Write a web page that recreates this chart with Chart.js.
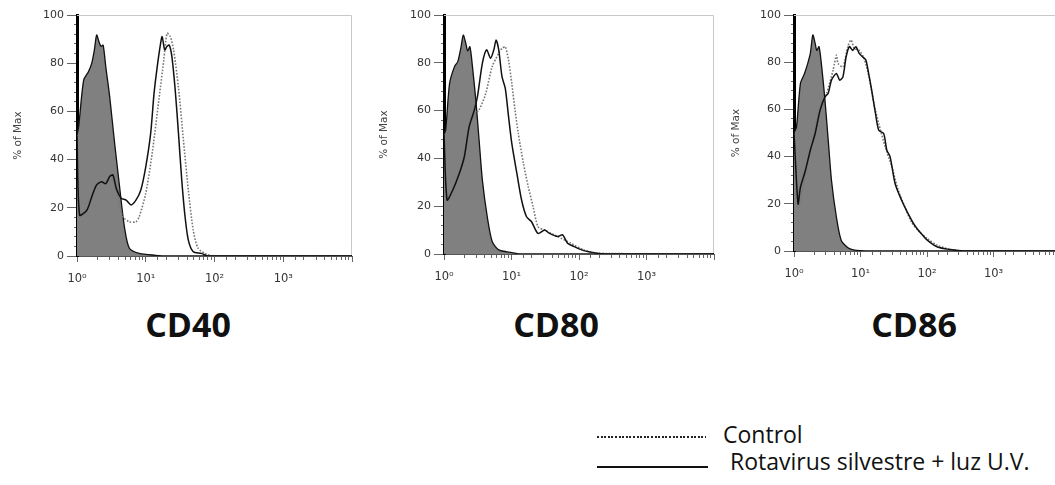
<!DOCTYPE html>
<html>
<head>
<meta charset="utf-8">
<script src="https://cdn.jsdelivr.net/npm/chart.js@4.4.1/dist/chart.umd.min.js"></script>
<style>
    body { margin: 0; width: 1055px; height: 485px; overflow: hidden; background: #fff; position: relative; }
    .panel { position: absolute; top: 0; }
    .title { position: absolute; top: 307px; width: 200px; text-align: center; font: 700 34px/34px "Open Sans", sans-serif; color: #111; }
    .legtext { position: absolute; font: 400 23px/23px "Open Sans", sans-serif; color: #111; white-space: nowrap; }
    .legline { position: absolute; height: 2px; }
</style>
</head>
<body>
<canvas id="cd40" class="panel" width="362" height="285" style="left:0px"></canvas>
<canvas id="cd80" class="panel" width="358" height="285" style="left:366px"></canvas>
<canvas id="cd86" class="panel" width="352" height="285" style="left:718px"></canvas>

<div class="title" style="left:88px">CD40</div>
<div class="title" style="left:456px">CD80</div>
<div class="title" style="left:814px">CD86</div>

<div class="legline" style="left:597px; top:436px; width:109px; background:repeating-linear-gradient(to right, #222 0 2px, transparent 2px 3.6px)"></div>
<div class="legtext" style="left:723px; top:423px">Control</div>
<div class="legline" style="left:597px; top:466px; width:111px; background:#111"></div>
<div class="legtext" style="left:730px; top:450px">Rotavirus silvestre + luz U.V.</div>

<script>
// Tick labels
const xTickLabels = ['10⁰', '10¹', '10²', '10³'];
const yAxisTitle = '% of Max';

// CD40
const cd40IsoX = [1.0, 1.06, 1.25, 1.47, 1.64, 1.79, 1.93, 2.08, 2.23, 2.40, 2.62, 2.99, 3.53, 4.16, 4.90, 5.78, 8.03, 13.9, 20, 10000];
const cd40IsoY = [50, 54, 73, 76.5, 80, 85.5, 91.7, 89, 87, 87.5, 78.6, 66, 46.7, 28.8, 12, 3.2, 1.1, 0.3, 0, 0];
const cd40UvX = [1.0, 1.09, 1.39, 1.64, 1.93, 2.28, 2.62, 2.99, 3.34, 3.73, 4.39, 5.18, 6.11, 7.20, 8.48, 10, 11.8, 13.2, 14.7, 16.4, 17.3, 18.9, 20.4, 22.0, 24.0, 26.8, 29.9, 33.4, 37.3, 41.6, 49.0, 64.5, 80.3, 10000];
const cd40UvY = [50, 17, 19, 24.6, 29.5, 30.8, 30, 33, 33.6, 28, 24, 23.2, 21.2, 23.2, 27.4, 37, 51, 67.5, 78.6, 88, 91, 85.5, 87, 87.5, 82.7, 69, 51, 31.5, 16.3, 6.6, 1.8, 1.1, 0, 0];
const cd40CtrlX = [1.0, 1.09, 1.39, 1.64, 1.93, 2.28, 2.62, 2.99, 3.34, 3.73, 4.64, 5.78, 7.20, 8.03, 10, 12.4, 15.5, 18.3, 20.4, 22.8, 25.4, 29.9, 35.3, 41.6, 49.0, 57.8, 76.0, 100, 10000];
const cd40CtrlY = [50, 17, 19, 24.6, 29.5, 30.8, 30, 32, 31, 26.7, 16.3, 14.2, 14.2, 16.3, 26, 42.6, 64.7, 81.3, 92.4, 91, 85.5, 70, 48, 27.4, 10.8, 3.2, 0.8, 0, 0];

// CD80
const cd80IsoX = [1.0, 1.06, 1.21, 1.43, 1.60, 1.79, 1.93, 2.11, 2.24, 2.42, 2.64, 2.96, 3.31, 3.70, 4.37, 5.17, 6.47, 10.1, 14.1, 10000];
const cd80IsoY = [50, 52, 71.4, 78.4, 80.5, 86.7, 91.6, 88, 85, 86.7, 78.4, 64.4, 47.7, 31, 15.6, 5.2, 1.7, 0.6, 0, 0];
const cd80UvX = [1.0, 1.11, 1.35, 1.69, 2.00, 2.36, 2.80, 3.13, 3.70, 4.28, 4.89, 5.47, 5.91, 6.47, 7.23, 8.09, 9.04, 10.1, 12.0, 14.1, 16.7, 19.8, 24.7, 30.9, 36.6, 48.3, 57.2, 67.6, 84.6, 118, 185, 231, 10000];
const cd80UvY = [50, 22.6, 26.8, 33.8, 40.7, 53.3, 60, 65.8, 79.8, 85.4, 81.9, 85.4, 89.5, 85.4, 74.2, 69.3, 57.5, 46.3, 33.8, 22.6, 15.6, 13.5, 8.6, 10, 8.6, 7.3, 8, 4.5, 3.1, 1.4, 0.3, 0, 0];
const cd80CtrlX = [1.0, 1.11, 1.35, 1.69, 2.00, 2.36, 2.96, 3.31, 4.14, 5.17, 6.47, 7.23, 8.09, 9.04, 10.1, 11.3, 12.6, 15.0, 17.7, 20.9, 24.7, 30.9, 48.3, 75.6, 118, 185, 10000];
const cd80CtrlY = [50, 22.6, 26.8, 33.8, 40.7, 53.3, 59, 60.3, 67, 78.4, 84, 86, 86.7, 81, 71.4, 60, 50.5, 38, 28.2, 19.8, 11.4, 10, 7.3, 4.5, 1.7, 0.3, 0];

// CD86
const cd86IsoX = [1.0, 1.09, 1.25, 1.43, 1.61, 1.76, 1.92, 2.08, 2.20, 2.38, 2.61, 2.92, 3.27, 3.66, 4.34, 5.14, 6.81, 12.0, 10000];
const cd86IsoY = [50, 52.6, 71, 75, 79.5, 83.7, 91.5, 88, 85, 86.6, 78, 64, 47, 30, 14.4, 4.5, 1, 0, 0];
const cd86UvX = [1.0, 1.15, 1.25, 1.48, 1.76, 2.08, 2.47, 2.92, 3.27, 3.66, 4.34, 4.86, 5.44, 6.08, 6.81, 7.63, 8.54, 9.55, 10.7, 12.0, 13.4, 15.0, 16.8, 18.8, 22.3, 24.9, 27.9, 33.1, 41.5, 52.0, 65.1, 81.6, 102, 144, 225, 354, 10000];
const cd86UvY = [50, 20, 27, 34, 42.7, 49.8, 59.7, 65.3, 66.8, 72.4, 75.2, 72.4, 73.8, 82.3, 86.6, 85, 86.6, 83.7, 82.3, 81, 74.5, 66.8, 58.3, 51.2, 49.8, 42.7, 39.9, 28.6, 21.5, 15.8, 10.9, 7.4, 4.5, 1.7, 0.6, 0, 0];
const cd86CtrlX = [1.0, 1.15, 1.57, 2.47, 3.09, 3.87, 4.34, 4.59, 5.44, 6.44, 7.21, 8.07, 9.55, 11.3, 13.4, 15.9, 18.8, 23.6, 29.6, 37.0, 46.4, 58.2, 72.9, 102, 144, 225, 354, 10000];
const cd86CtrlY = [50, 18.7, 35.6, 61, 66.8, 76.6, 83, 79.5, 78, 86.6, 89.4, 85.9, 85, 81.6, 73.8, 62.5, 54, 44, 35.6, 25.7, 18.7, 12.3, 8.8, 5.2, 2.4, 0.6, 0, 0];

function points(xs, ys) {
    return xs.map((x, i) => ({x: x, y: ys[i]}));
}

function isDecade(v) {
    const e = Math.log10(v);
    return Math.abs(e - Math.round(e)) < 1e-6;
}

// light frame on top and right of plot area
const framePlugin = {
    id: 'frame',
    beforeDatasetsDraw(chart) {
        const {ctx, chartArea: a} = chart;
        ctx.save();
        ctx.strokeStyle = '#c8c8c8';
        ctx.lineWidth = 1;
        ctx.beginPath();
        ctx.moveTo(a.left, a.top + 0.5);
        ctx.lineTo(a.right - 0.5, a.top + 0.5);
        ctx.lineTo(a.right - 0.5, a.bottom);
        ctx.stroke();
        ctx.restore();
    }
};

function makeHistogram(id, iso, uv, ctrl, yWidth, xHeight) {
    const ctx = document.getElementById(id).getContext('2d');
    return new Chart(ctx, {
        type: 'line',
        data: {
            datasets: [
                {
                    label: 'Rotavirus silvestre + luz U.V.',
                    data: points(uv[0], uv[1]),
                    borderColor: '#111',
                    borderWidth: 1.5,
                    pointRadius: 0,
                    tension: 0.25,
                    fill: false
                },
                {
                    label: 'Control',
                    data: points(ctrl[0], ctrl[1]),
                    borderColor: '#777',
                    borderWidth: 1.6,
                    borderDash: [1.6, 1.6],
                    pointRadius: 0,
                    tension: 0.25,
                    fill: false
                },
                {
                    label: 'Isotype',
                    data: points(iso[0], iso[1]),
                    borderColor: '#111',
                    borderWidth: 1.3,
                    backgroundColor: '#808080',
                    pointRadius: 0,
                    tension: 0.25,
                    fill: 'origin'
                }
            ]
        },
        options: {
            responsive: false,
            animation: false,
            layout: { padding: { top: 15, right: 5, left: 0, bottom: 0 } },
            plugins: { legend: { display: false }, tooltip: { enabled: false } },
            scales: {
                x: {
                    type: 'logarithmic',
                    min: 1,
                    max: 10000,
                    afterFit: (s) => { s.height = xHeight; },
                    border: { color: '#555', width: 1 },
                    grid: {
                        drawOnChartArea: false,
                        drawTicks: true,
                        tickLength: 6,
                        color: '#666',
                        // minor ticks shorter than decade ticks
                        tickBorderDash: (c) => (c.tick && isDecade(c.tick.value)) ? [] : [3, 10]
                    },
                    ticks: {
                        autoSkip: false,
                        maxRotation: 0,
                        padding: 10,
                        color: '#333',
                        font: { family: 'DejaVu Sans', size: 11.5 },
                        callback: function(value) {
                            const r = Math.round(Math.log10(value));
                            if (isDecade(value) && r >= 0 && r < xTickLabels.length) {
                                return xTickLabels[r];
                            }
                            return '';
                        }
                    }
                },
                y: {
                    min: 0,
                    max: 100,
                    afterFit: (s) => { s.width = yWidth; },
                    border: { color: '#000', width: 3 },
                    grid: {
                        drawOnChartArea: false,
                        drawTicks: true,
                        tickLength: 10,
                        color: '#666',
                        tickBorderDash: (c) => (c.tick && c.tick.value % 20 === 0) ? [] : [0, 7, 3, 0]
                    },
                    ticks: {
                        stepSize: 4,
                        autoSkip: false,
                        padding: 3,
                        color: '#333',
                        font: { family: 'DejaVu Sans', size: 11 },
                        callback: (v) => v % 20 === 0 ? v : ''
                    },
                    title: {
                        display: true,
                        text: yAxisTitle,
                        color: '#444',
                        padding: { top: 12, bottom: 0 },
                        font: { family: 'DejaVu Sans', size: 10.5 }
                    }
                }
            }
        },
        plugins: [framePlugin]
    });
}

makeHistogram('cd40', [cd40IsoX, cd40IsoY], [cd40UvX, cd40UvY], [cd40CtrlX, cd40CtrlY], 77, 29);
makeHistogram('cd80', [cd80IsoX, cd80IsoY], [cd80UvX, cd80UvY], [cd80CtrlX, cd80CtrlY], 78, 31);
makeHistogram('cd86', [cd86IsoX, cd86IsoY], [cd86UvX, cd86UvY], [cd86CtrlX, cd86CtrlY], 76, 34);
</script>
</body>
</html>
